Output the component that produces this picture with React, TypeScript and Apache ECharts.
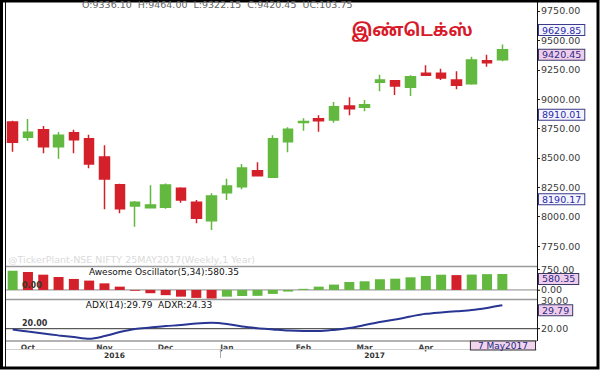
import { useEffect, useRef } from "react";
import * as echarts from "echarts";

// Weekly candles (week dated by Sunday)
const dates = [
  "2016-09-25", "2016-10-02", "2016-10-09", "2016-10-16", "2016-10-23", "2016-10-30",
  "2016-11-06", "2016-11-13", "2016-11-20", "2016-11-27", "2016-12-04", "2016-12-11",
  "2016-12-18", "2016-12-25", "2017-01-01", "2017-01-08", "2017-01-15", "2017-01-22",
  "2017-01-29", "2017-02-05", "2017-02-12", "2017-02-19", "2017-02-26", "2017-03-05",
  "2017-03-12", "2017-03-19", "2017-03-26", "2017-04-02", "2017-04-09", "2017-04-16",
  "2017-04-23", "2017-04-30", "2017-05-07",
];
const openP = [8805, 8675, 8740, 8595, 8714, 8663, 8508, 8272, 8091, 8076, 8079, 8241, 8122, 7965, 8204, 8255, 8391, 8335, 8638, 8802, 8833, 8822, 8942, 8930, 9143, 9157, 9101, 9220, 9220, 9163, 9131, 9327, 9336.1];
const closeP = [8633, 8718, 8595, 8692, 8655, 8448, 8320, 8068, 8122, 8099, 8269, 8142, 7986, 8176, 8261, 8414, 8348, 8663, 8743, 8810, 8816, 8936, 8919, 8953, 9163, 9112, 9191, 9203, 9180, 9118, 9333, 9310, 9420.45];
const lowP = [8553, 8646, 8539, 8493, 8539, 8411, 8062, 8028, 7914, 8070, 8068, 8119, 7943, 7886, 8142, 8233, 8345, 8329, 8548, 8731, 8723, 8799, 8862, 8896, 9067, 9035, 9027, 9197, 9163, 9084, 9123, 9276, 9322.15];
const highP = [8816, 8831, 8771, 8720, 8740, 8697, 8607, 8280, 8133, 8267, 8283, 8250, 8142, 8199, 8323, 8448, 8462, 8692, 8760, 8837, 8862, 8976, 9016, 8993, 9208, 9163, 9203, 9288, 9259, 9237, 9361, 9378, 9464.0];

const aoValues = [700, 650, 555, 470, 400, 340, 240, 120, -30, -120, -190, -245, -290, -315, -245, -220, -215, -145, -60, 40, 120, 195, 290, 315, 390, 410, 460, 510, 555, 540, 560, 575, 580.35];
const adxValues = [19.7, 18.8, 18.0, 17.2, 16.5, 15.8, 16.9, 18.6, 19.9, 20.5, 21.1, 21.5, 22.2, 22.5, 22.0, 20.9, 20.2, 19.7, 19.2, 19.0, 19.0, 19.5, 20.3, 21.5, 22.8, 23.8, 25.1, 26.2, 26.8, 27.3, 27.8, 28.7, 29.79];

const priceTicks = [7750, 8000, 8250, 8500, 8750, 9000, 9250, 9500, 9750];
const priceMarks = [9629.85, 8910.01, 8190.17];
const lastClose = 9420.45;
const aoTicks = [0, 750];
const aoLast = 580.35;
const adxLowTicks = [20];
const adxTopTicks = [30];
const adxLast = 29.79;

const monthIndex = [1, 6, 10, 14, 19, 23, 27];
const monthNames = ["Oct", "Nov", "Dec", "Jan", "Feb", "Mar", "Apr"];
const yearIndex = [6, 23];
const yearNames = ["2016", "2017"];

const headerText = "O:9336.10  H:9464.00  L:9322.15  C:9420.45  UC:103.75";
const titleText = "இண்டெக்ஸ்";
const aoTitle = "Awesome Oscillator(5,34):580.35";
const adxTitle = "ADX(14):29.79  ADXR:24.33";
const watermark = "@TickerPlant-NSE NIFTY 25MAY2017(Weekly,1 Year)";
const lastDateLabel = "7 May2017";

const FONT = "DejaVu Sans, Verdana, sans-serif";
const GREEN = "#63b83f";
const RED = "#d3202a";

export default function App() {
  const ref = useRef<HTMLDivElement>(null);
  useEffect(() => {
    const chart = echarts.init(ref.current!, null, { renderer: "svg" });
    const grids = [
      { left: 5, top: 5, width: 505, height: 261, outerBoundsMode: "none" },
      { left: 5, top: 267, width: 505, height: 32, outerBoundsMode: "none" },
      { left: 5, top: 300, width: 505, height: 41, outerBoundsMode: "none" },
    ];
    const hiddenX = (gi: number) => ({
      type: "category",
      gridIndex: gi,
      data: dates,
      boundaryGap: true,
      axisLine: { show: false },
      axisTick: { show: false },
      axisLabel: { show: false },
      splitLine: { show: false },
    });
    const mainAxis = (gi: number, min: number, max: number, ticks: number[], valign = "middle") => ({
      type: "value",
      gridIndex: gi,
      position: "right",
      offset: 27,
      min,
      max,
      axisLine: { show: false },
      axisTick: { show: true, length: 3, lineStyle: { color: "#222" }, customValues: ticks },
      axisLabel: {
        customValues: ticks,
        formatter: (v: number) => v.toFixed(2),
        fontSize: 9.5,
        fontFamily: FONT,
        color: "#3a3a3a",
        margin: 4,
        verticalAlign: valign,
        lineHeight: 9,
      },
      splitLine: { show: false },
    });
    const markAxis = (gi: number, min: number, max: number, vals: number[], pinkVals: number[]) => ({
      type: "value",
      gridIndex: gi,
      position: "right",
      offset: 27,
      min,
      max,
      axisLine: { show: false },
      axisTick: { show: false },
      splitLine: { show: false },
      axisLabel: {
        customValues: vals,
        margin: 2,
        verticalAlign: "top",
        formatter: (v: number) => (pinkVals.includes(v) ? `{p|${v.toFixed(2)}}` : `{b|${v.toFixed(2)}}`),
        rich: {
          b: {
            fontSize: 9.5,
            fontFamily: FONT,
            color: "#2a2aa8",
            backgroundColor: "#f4f4ff",
            borderColor: "#3a3a8a",
            borderWidth: 1,
            padding: [0, 3, 0, 3],
            lineHeight: 10,
          },
          p: {
            fontSize: 9.5,
            fontFamily: FONT,
            color: "#2a2a88",
            backgroundColor: "#efcdea",
            borderColor: "#3a3a6a",
            borderWidth: 1,
            padding: [0, 3, 0, 3],
            lineHeight: 10,
          },
        },
      },
    });

    const option: any = {
      animation: false,
      backgroundColor: "#ffffff",
      grid: grids,
      xAxis: [
        hiddenX(0),
        hiddenX(1),
        {
          ...hiddenX(2),
          axisLabel: {
            show: true,
            margin: 2,
            interval: (idx: number) => monthIndex.includes(idx),
            formatter: (_v: string, idx: number) => {
              const m = monthIndex.indexOf(idx);
              if (m < 0) return "";
              const y = yearIndex.indexOf(idx);
              return y >= 0 ? `{m|${monthNames[m]}}\n{y|${yearNames[y]}}` : `{m|${monthNames[m]}}`;
            },
            rich: {
              m: { fontSize: 7.5, fontFamily: FONT, color: "#444", fontWeight: "bold", lineHeight: 8 },
              y: { fontSize: 7.5, fontFamily: FONT, color: "#333", fontWeight: "bold", lineHeight: 9, padding: [0, 0, 0, 20] },
            },
          },
        },
      ],
      yAxis: [
        mainAxis(0, 7580, 9801, priceTicks),
        markAxis(0, 7580, 9801, [...priceMarks, lastClose], [lastClose]),
        mainAxis(1, -330, 835, aoTicks),
        markAxis(1, -330, 835, [aoLast], [aoLast]),
        mainAxis(2, 14.85, 32, adxLowTicks),
        markAxis(2, 14.85, 32, [adxLast], [adxLast]),
        mainAxis(2, 14.85, 32, adxTopTicks, "bottom"),
      ],
      series: [
        {
          type: "candlestick",
          xAxisIndex: 0,
          yAxisIndex: 0,
          barWidth: 10,
          data: dates.map((_d, i) => [openP[i], closeP[i], lowP[i], highP[i]]),
          itemStyle: { color: GREEN, color0: RED, borderColor: GREEN, borderColor0: RED, borderWidth: 1.5 },
          z: 3,
        },
        {
          type: "bar",
          xAxisIndex: 1,
          yAxisIndex: 2,
          barWidth: 10,
          data: aoValues,
          itemStyle: {
            color: (p: any) =>
              p.dataIndex === 0 || aoValues[p.dataIndex] >= aoValues[p.dataIndex - 1] ? GREEN : RED,
          },
          z: 3,
        },
        {
          type: "line",
          xAxisIndex: 2,
          yAxisIndex: 4,
          data: adxValues,
          showSymbol: false,
          smooth: 0.3,
          lineStyle: { color: "#283593", width: 2 },
          z: 3,
        },
      ],
    };
    chart.setOption(option);

    const y0 = chart.convertToPixel({ yAxisIndex: 2 }, 0) as unknown as number;
    const y20 = chart.convertToPixel({ yAxisIndex: 4 }, 20) as unknown as number;

    const txt = (x: number, y: number, text: string, font: string, fill: string, align = "left", valign = "middle", z = 5, extra: any = {}) => ({
      type: "text",
      x,
      y,
      z,
      silent: true,
      style: { text, font, fill, align, verticalAlign: valign, textAlign: align, textVerticalAlign: valign, ...extra },
    });
    const ln = (x1: number, y1: number, x2: number, y2: number, stroke: string, lineWidth = 1, z = 1) => ({
      type: "line",
      z,
      silent: true,
      shape: { x1, y1, x2, y2 },
      style: { stroke, lineWidth },
    });

    chart.setOption({
      graphic: [
        txt(8, 259, watermark, `9.5px ${FONT}`, "#dadada", "left", "middle", 0),
        ln(5, y0, 540, y0, "#8a8a8a", 1, 1),
        ln(5, y20, 540, y20, "#333333", 1, 1),
        ln(5, 266.5, 537, 266.5, "#9a9a9a", 1.5, 6),
        ln(5, 299.5, 537, 299.5, "#9a9a9a", 1.5, 6),
        ln(5, 341, 537, 341, "#9a9a9a", 1.5, 6),
        ln(5, 349.5, 537, 349.5, "#d0d0d0", 1, 6),
        ln(220.5, 349, 220.5, 358, "#aaaaaa", 1, 6),
        ln(537.5, 2, 537.5, 341, "#111111", 1, 6),
        ln(5.5, 1, 5.5, 368, "#111111", 1, 6),
        {
          type: "rect",
          z: 7,
          silent: true,
          shape: { x: 1.5, y: 1, width: 596.5, height: 367 },
          style: { fill: "none", stroke: "#000", lineWidth: 3 },
        },
        txt(22, y0 - 0.5, "0.00", `bold 8px ${FONT}`, "#3a3a2a", "left", "bottom", 8),
        txt(22, y20 - 1, "20.00", `bold 8px ${FONT}`, "#333", "left", "bottom", 8),
        txt(82, 4.5, headerText, `9.5px ${FONT}`, "#666", "left", "middle", 8),
        txt(412, 31, titleText, `bold 17px "Noto Sans Tamil", "Noto Sans", ${FONT}`, "#d7192a", "center", "middle", 8),
        txt(164, 271.5, aoTitle, `9px ${FONT}`, "#111", "center", "middle", 8),
        txt(149, 304.5, adxTitle, `9px ${FONT}`, "#111", "center", "middle", 8),
        txt(535, 345.5, lastDateLabel, `9px ${FONT}`, "#222a80", "right", "middle", 8, {
          backgroundColor: "#f2d4ee",
          borderColor: "#333",
          borderWidth: 1,
          padding: [0, 7, 0, 7],
          lineHeight: 8,
        }),
      ],
    });

    return () => chart.dispose();
  }, []);
  return <div ref={ref} style={{ position: "fixed", left: 0, top: 0, width: 600, height: 373 }} />;
}
